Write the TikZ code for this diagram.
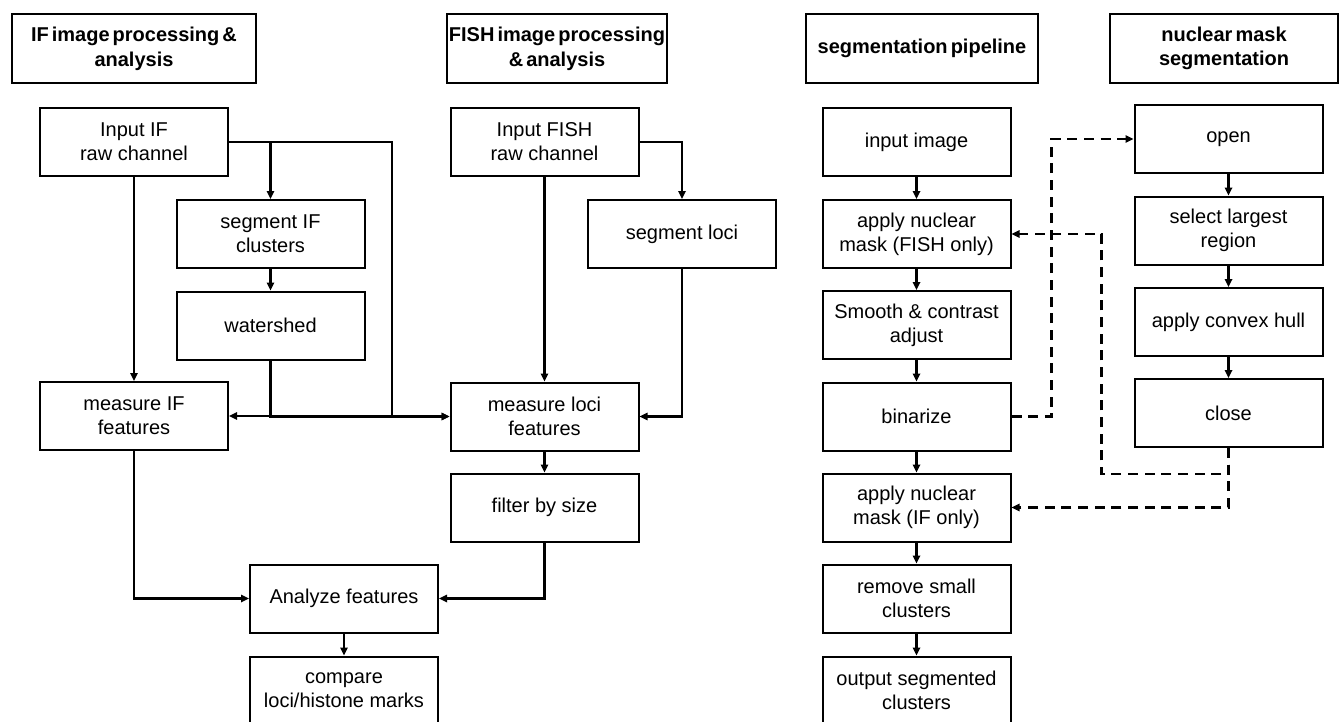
\documentclass[tikz,border=0pt]{standalone}
\usepackage{fontspec}
\setmainfont{Liberation Sans}
\newfontfamily\ttlfont[WordSpace=0.55]{Liberation Sans}
\usetikzlibrary{arrows.meta}
\tikzset{
  box/.style={draw=black, line width=1.5pt, fill=white, align=center, inner sep=0pt,
    font=\fontsize{15}{18}\selectfont, minimum width=141pt, minimum height=51pt},
  ttl/.style={draw=black, line width=2.1pt, fill=white, align=center, inner sep=0pt,
    font=\ttlfont\fontsize{15}{18.5}\selectfont\bfseries, minimum height=51.75pt},
  conn/.style={line width=1.9pt, -{Triangle[length=6pt,width=5.5pt]}},
  dconn/.style={line width=1.9pt, dash pattern=on 7.5pt off 5pt, -{Triangle[length=6pt,width=5.5pt]}}
}
\begin{document}
\begin{tikzpicture}[x=0.75pt,y=-0.75pt]
\useasboundingbox (0,0) rectangle (1344,721);
\fill[white] (0,0) rectangle (1344,721);

% titles
\node[ttl, minimum width=183pt] (tIF) at (134,48.5) {IF image processing \&\\analysis};
\node[ttl, minimum width=165pt] (tFISH) at (557,48.5) {FISH image processing\\\& analysis};
\node[ttl, minimum width=174pt] (tSeg) at (922,48.5) {segmentation pipeline};
\node[ttl, minimum width=171pt] (tNuc) at (1224,48.5) {nuclear mask\\segmentation};

% IF column
\node[box] (inIF) at (134,142) {Input IF\\raw channel};
\node[box] (segIF) at (270.5,234) {segment IF\\clusters};
\node[box] (wsh) at (270.5,325.5) {watershed};
\node[box] (measIF) at (134,416) {measure IF\\features};
\node[box] (analyze) at (344,598.5) {Analyze features};
\node[box] (compare) at (344,690.5) {compare\\loci/histone marks};

% FISH column
\node[box] (inFISH) at (544.5,142) {Input FISH\\raw channel};
\node[box] (segloci) at (682,234) {segment loci};
\node[box] (measloci) at (544.5,416.5) {measure loci\\features};
\node[box] (filter) at (544.5,507.5) {filter by size};

% segmentation pipeline
\node[box] (inimg) at (916.5,142) {input image};
\node[box] (applyFISH) at (916.5,234) {apply nuclear\\mask (FISH only)};
\node[box] (smooth) at (916.5,325) {Smooth \& contrast\\adjust};
\node[box] (binarize) at (916.5,416.5) {binarize};
\node[box] (applyIF) at (916.5,507.5) {apply nuclear\\mask (IF only)};
\node[box] (remove) at (916.5,598.5) {remove small\\clusters};
\node[box] (output) at (916.5,690.5) {output segmented\\clusters};

% nuclear mask segmentation
\node[box] (open) at (1228.5,139) {open};
\node[box] (select) at (1228.5,230.5) {select largest\\region};
\node[box] (hull) at (1228.5,322) {apply convex hull};
\node[box] (close) at (1228.5,413) {close};

% IF connectors
\draw[conn] (inIF.south) -- (measIF.north);
\draw[conn] (inIF.east) -| (segIF.north);
\draw[conn] (inIF.east) -- ++(163,0) |- (measloci.west);
\draw[conn] (segIF.south) -- (wsh.north);
\draw[conn] (wsh.south) |- (measIF.east);
\draw[conn] (wsh.south) |- (measloci.west);
\draw[conn] (measIF.south) |- (analyze.west);
\draw[conn] (analyze.south) -- (compare.north);

% FISH connectors
\draw[conn] (inFISH.south) -- (measloci.north);
\draw[conn] (inFISH.east) -| (segloci.north);
\draw[conn] (segloci.south) |- (measloci.east);
\draw[conn] (measloci.south) -- (filter.north);
\draw[conn] (filter.south) |- (analyze.east);

% pipeline connectors
\draw[conn] (inimg.south) -- (applyFISH.north);
\draw[conn] (applyFISH.south) -- (smooth.north);
\draw[conn] (smooth.south) -- (binarize.north);
\draw[conn] (binarize.south) -- (applyIF.north);
\draw[conn] (applyIF.south) -- (remove.north);
\draw[conn] (remove.south) -- (output.north);

% nuclear connectors
\draw[conn] (open.south) -- (select.north);
\draw[conn] (select.south) -- (hull.north);
\draw[conn] (hull.south) -- (close.north);

% dashed connectors
\draw[dconn] (binarize.east) -- ++(40,0) |- (open.west);
\draw[dconn] (close.south) -- ++(0,26) -- ++(-127,0) |- (applyFISH.east);
\draw[dconn] (close.south) |- (applyIF.east);
\end{tikzpicture}
\end{document}
